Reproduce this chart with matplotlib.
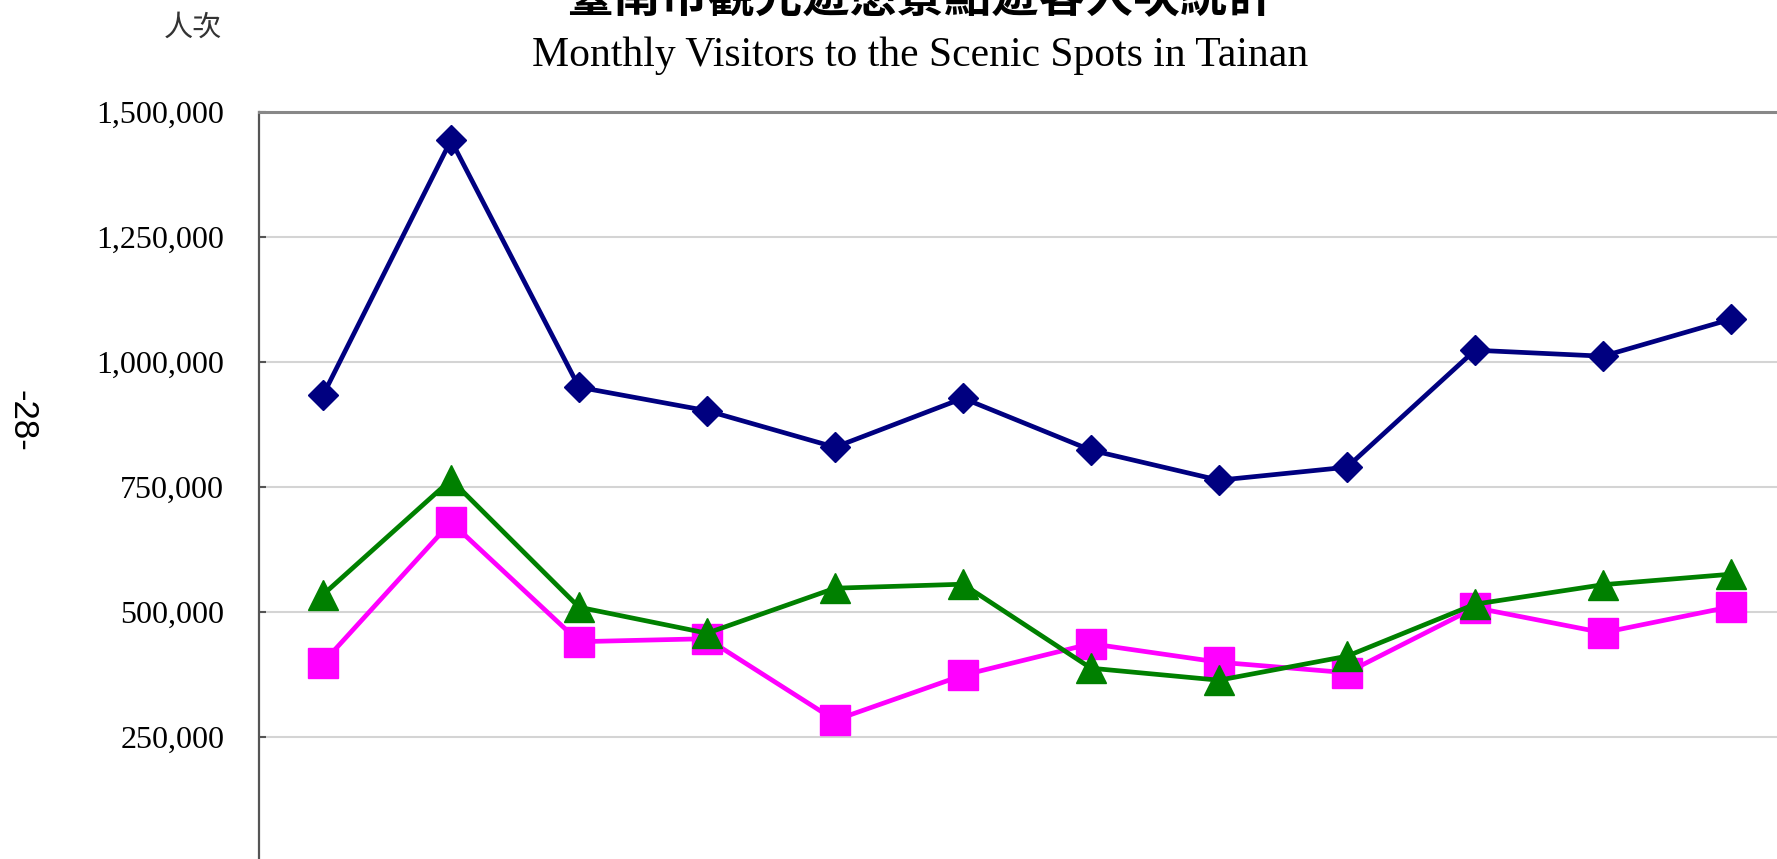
import numpy as np
import matplotlib
matplotlib.use("Agg")
import matplotlib.pyplot as plt
from matplotlib.ticker import FuncFormatter

# monthly visitors
months = ["1", "2", "3", "4", "5", "6", "7", "8", "9", "10", "11", "12"]
total = [933000, 1443000, 949000, 902000, 829000, 927000, 823000, 763000, 789000, 1023000, 1011000, 1085000]
series_b = [398000, 679000, 440000, 446000, 283000, 373000, 436000, 399000, 378000, 508000, 458000, 510000]
series_c = [534000, 764000, 509000, 457000, 547000, 555000, 387000, 363000, 411000, 515000, 554000, 575000]
yticks = [250000, 500000, 750000, 1000000, 1250000, 1500000]

serif = ["Liberation Serif", "DejaVu Serif"]
cjk = ["Noto Sans CJK TC", "DejaVu Sans"]

fig = plt.figure(figsize=(17.77, 8.59), dpi=100)
# the reference is a crop: axes run past the right and bottom edges
ax = fig.add_axes([259 / 1777, -2.7 / 859, 1536 / 1777, 750 / 859])

x = np.arange(len(months))
ax.plot(x, series_b, color="#FF00FF", lw=3.4, marker="s", ms=21, zorder=3)
ax.plot(x, series_c, color="#008000", lw=3.4, marker="^", ms=22, zorder=4)
ax.plot(x, total, color="#000080", lw=3.4, marker="D", ms=15.5, zorder=5)

ax.set_xlim(-0.5, len(months) - 0.5)
ax.set_ylim(0, 1500000)
ax.set_xticks(x)
ax.set_xticklabels(months)
ax.set_yticks(yticks)
ax.yaxis.set_major_formatter(FuncFormatter(lambda v, p: f"{v:,.0f}"))
ax.grid(axis="y", color="#d4d4d4", lw=1.5, zorder=0)
ax.set_axisbelow(True)

ax.spines["left"].set_color("#555555")
ax.spines["left"].set_linewidth(1.6)
ax.spines["top"].set_color("#888888")
ax.spines["top"].set_linewidth(2.2)
ax.spines["right"].set_visible(False)
ax.spines["bottom"].set_visible(False)
ax.tick_params(axis="y", direction="in", length=5, width=1.5, color="#555555",
               pad=25, labelsize=23)
ax.tick_params(axis="x", length=0, labelbottom=False)
for lab in ax.get_yticklabels():
    lab.set_family(serif)

fig.text(0.518, 1 - 22 / 859, "臺南市觀光遊憩景點遊客人次統計", family=cjk,
         fontsize=34, fontweight="bold", ha="center", va="bottom")
fig.text(0.518, 1 - 66 / 859, "Monthly Visitors to the Scenic Spots in Tainan",
         family=serif, fontsize=30, ha="center", va="baseline")
fig.text(193 / 1777, 1 - 28 / 859, "人次", family=cjk, fontsize=21,
         fontweight="light", color="#333333", ha="center", va="center")
fig.text(22 / 1777, 1 - 421 / 859, "-28-", family=["Liberation Sans", "DejaVu Sans"],
         fontsize=25, rotation=-90, ha="center", va="center")

fig.savefig("out.png", dpi=100)
